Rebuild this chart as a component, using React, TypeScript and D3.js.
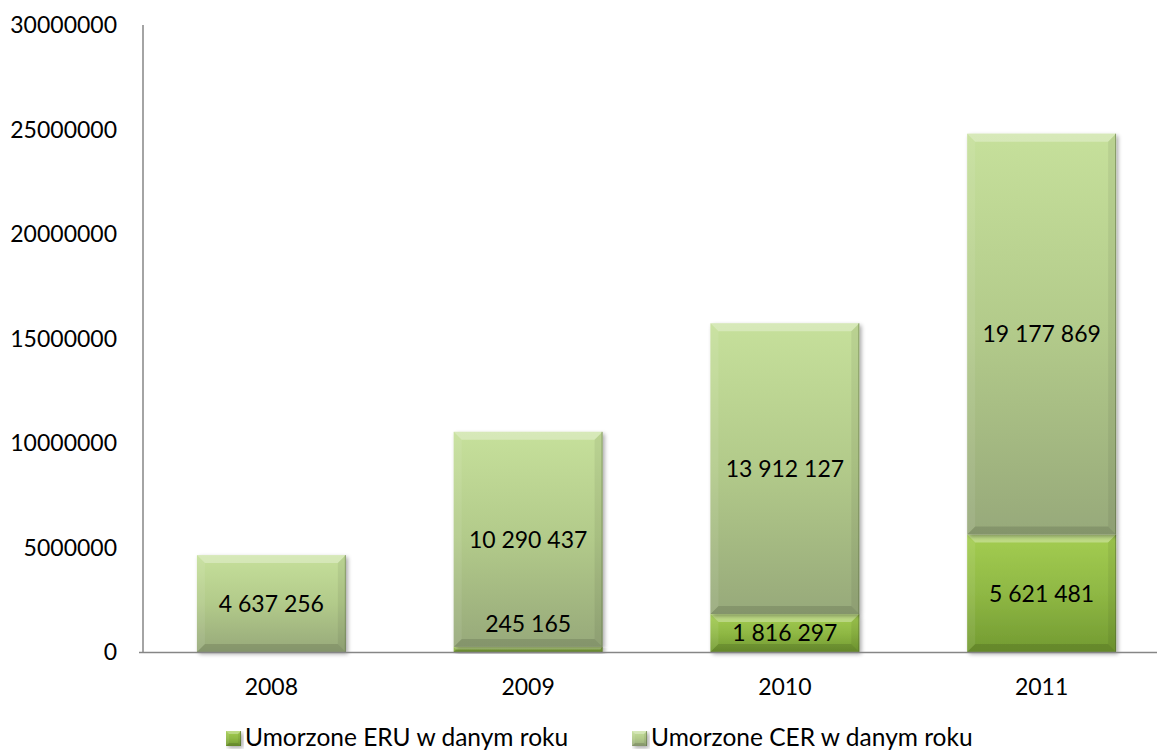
import React from "react";
import * as d3 from "d3";

const years = ["2008", "2009", "2010", "2011"];
const eruValues = [0, 245165, 1816297, 5621481];
const cerValues = [4637256, 10290437, 13912127, 19177869];
const yTicks = [0, 5000000, 10000000, 15000000, 20000000, 25000000, 30000000];
const seriesNames = ["Umorzone ERU w danym roku", "Umorzone CER w danym roku"];

const W = 1157;
const H = 753;
const FONT = "Lato, 'Open Sans', sans-serif";

const locale = d3.formatLocale({ decimal: ",", thousands: " ", grouping: [3], currency: ["", ""] });
const fmt = locale.format(",d");

type Seg = { x: number; y0: number; y1: number; w: number; kind: "eru" | "cer"; bevel?: number };

function Bevel({ x, y0, y1, w, kind, bevel = 8 }: Seg) {
  const top = Math.min(y0, y1);
  const h = Math.abs(y1 - y0);
  if (h <= 0) return null;
  const b = Math.min(bevel, h / 2);
  const x2 = x + w;
  const bot = top + h;
  const fill = kind === "eru" ? "url(#gEru)" : "url(#gCer)";
  return (
    <g>
      <rect x={x} y={top} width={w} height={h} fill={fill} filter="url(#shadow)" />
      <polygon points={`${x},${top} ${x2},${top} ${x2 - b},${top + b} ${x + b},${top + b}`} fill="#ffffff" opacity={0.3} />
      <polygon points={`${x},${top} ${x + b},${top + b} ${x + b},${bot - b} ${x},${bot}`} fill="#ffffff" opacity={0.08} />
      <polygon points={`${x2},${top} ${x2},${bot} ${x2 - b},${bot - b} ${x2 - b},${top + b}`} fill="#000000" opacity={0.06} />
      <polygon points={`${x},${bot} ${x + b},${bot - b} ${x2 - b},${bot - b} ${x2},${bot}`} fill="#000000" opacity={0.12} />
      <line x1={x2 - 0.5} x2={x2 - 0.5} y1={top} y2={bot} stroke="#4a5a30" strokeOpacity={0.45} />
    </g>
  );
}

export default function App() {
  const x = d3.scaleBand<string>().domain(years).range([143, 1170]).paddingInner(0.42).paddingOuter(0.21);
  const y = d3.scaleLinear().domain([0, 30000000]).range([652, 25]);
  const bw = x.bandwidth();

  const labels: { x: number; y: number; text: string }[] = [];
  const segs: Seg[] = [];
  years.forEach((yr, i) => {
    const bx = x(yr)!;
    const e = eruValues[i];
    const c = cerValues[i];
    if (e > 0) {
      segs.push({ x: bx, y0: y(0), y1: y(e), w: bw, kind: "eru" });
      const hgt = y(0) - y(e);
      labels.push({ x: bx + bw / 2, y: hgt < 24 ? y(e) - 23 : (y(0) + y(e)) / 2, text: fmt(e) });
    }
    segs.push({ x: bx, y0: y(e), y1: y(e + c), w: bw, kind: "cer" });
    labels.push({ x: bx + bw / 2, y: (y(e) + y(e + c)) / 2, text: fmt(c) });
  });

  const legendItems = [
    { name: seriesNames[0], kind: "eru", mx: 226 },
    { name: seriesNames[1], kind: "cer", mx: 632 },
  ];

  return (
    <div style={{ position: "fixed", left: 0, top: 0, width: W, height: H, background: "#fff" }}>
      <svg width={W} height={H} style={{ display: "block" }}>
        <defs>
          <linearGradient id="gCer" x1="0" y1="0" x2="0" y2="1">
            <stop offset="0" stopColor="#c6e09b" />
            <stop offset="0.5" stopColor="#b2ca8a" />
            <stop offset="1" stopColor="#97a97a" />
          </linearGradient>
          <linearGradient id="gEru" x1="0" y1="0" x2="0" y2="1">
            <stop offset="0" stopColor="#a4cd52" />
            <stop offset="0.5" stopColor="#8fb844" />
            <stop offset="1" stopColor="#729a31" />
          </linearGradient>
          <filter id="shadow" x="-10%" y="-10%" width="130%" height="130%">
            <feGaussianBlur in="SourceAlpha" stdDeviation="2" />
            <feOffset dx="2" dy="2" result="ob" />
            <feComponentTransfer>
              <feFuncA type="linear" slope="0.35" />
            </feComponentTransfer>
            <feMerge>
              <feMergeNode />
              <feMergeNode in="SourceGraphic" />
            </feMerge>
          </filter>
        </defs>

        {segs.map((s, i) => (
          <Bevel key={i} {...s} />
        ))}

        <line x1={143} x2={143} y1={y(30000000)} y2={y(0)} stroke="#868686" strokeWidth={1.5} />
        <line x1={139} x2={W} y1={y(0) + 0.5} y2={y(0) + 0.5} stroke="#868686" strokeWidth={1.5} />

        {yTicks.map((t) => (
          <text key={t} x={117} y={y(t)} dy="0.36em" textAnchor="end" fontFamily={FONT} fontSize={23} fill="#000">
            {String(t)}
          </text>
        ))}

        {years.map((yr) => (
          <text key={yr} x={x(yr)! + bw / 2} y={687} dy="0.36em" textAnchor="middle" fontFamily={FONT} fontSize={23} fill="#000">
            {yr}
          </text>
        ))}

        {labels.map((l, i) => (
          <text key={i} x={l.x} y={l.y} dy="0.36em" textAnchor="middle" fontFamily={FONT} fontSize={23} fill="#000">
            {l.text}
          </text>
        ))}

        {legendItems.map((it) => (
          <g key={it.name}>
            <Bevel x={it.mx} y0={731} y1={746} w={15} kind={it.kind as "eru" | "cer"} bevel={3} />
            <text x={it.mx + 19} y={746} fontFamily={FONT} fontSize={24.5} fill="#000">
              {it.name}
            </text>
          </g>
        ))}
      </svg>
    </div>
  );
}
